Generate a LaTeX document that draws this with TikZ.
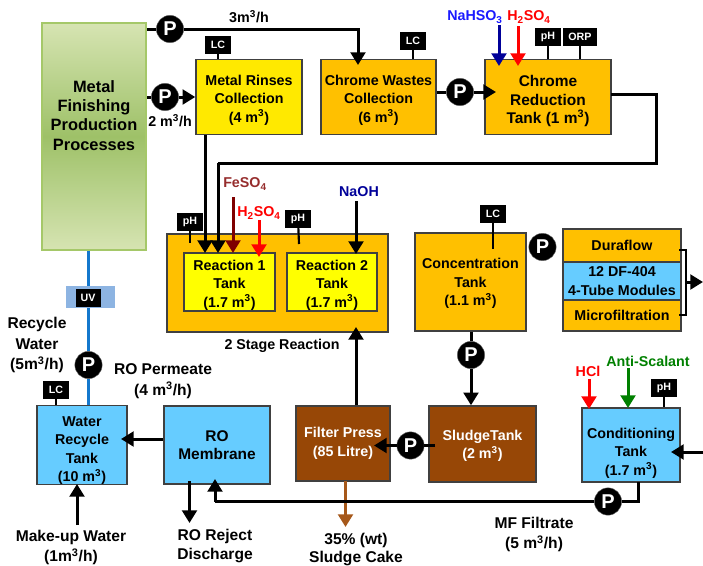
\documentclass[tikz,border=0pt]{standalone}
\usepackage{fontspec}
\setmainfont{Liberation Sans}
\usetikzlibrary{calc,positioning,arrows.meta}
\definecolor{ink}{gray}{0.25}
\definecolor{tankOrange}{RGB}{255,192,0}
\definecolor{tankYellow}{RGB}{255,233,0}
\definecolor{rxYellow}{RGB}{255,255,0}
\definecolor{tankBlue}{RGB}{102,204,255}
\definecolor{tankBrown}{RGB}{151,71,6}
\definecolor{cakeBrown}{RGB}{166,88,26}
\definecolor{waterBlue}{RGB}{20,120,205}
\definecolor{uvBlue}{RGB}{141,180,226}
\definecolor{ironRed}{RGB}{127,0,0}
\definecolor{ironText}{RGB}{150,45,45}
\definecolor{chemBlue}{RGB}{0,0,153}
\definecolor{labelBlue}{RGB}{26,26,255}
\definecolor{chemGreen}{RGB}{0,128,0}
\definecolor{leafTop}{RGB}{214,228,178}
\definecolor{leafMid}{RGB}{158,193,104}
\definecolor{leafEdge}{RGB}{165,200,105}
\def\px{0.75pt}
\newcommand{\cub}{\textsuperscript{3}}
\newcommand{\sk}[1]{\rule{0pt}{#1}}

\begin{document}
\begin{tikzpicture}[x=\px, y=-\px, font=\bfseries,
   tank/.style={draw=ink, line width=1.1pt, inner sep=0pt, align=center, font=\bfseries\fontsize{10.7}{13.8}\selectfont},
   big/.style={font=\bfseries\fontsize{11.6}{13.8}\selectfont},
   pump/.style={circle, fill=black, draw=black!60, line width=0.3pt, text=white, minimum size=20.5pt, inner sep=0pt, font=\bfseries\fontsize{15}{15}\selectfont},
   tagbox/.style={fill=black, text=white, minimum width=19.5pt, minimum height=13.5pt, inner sep=0pt, font=\bfseries\fontsize{8}{8}\selectfont},
   lbl/.style={align=center, inner sep=0pt, font=\bfseries\fontsize{10.7}{13.8}\selectfont},
   lblb/.style={align=center, inner sep=0pt, font=\bfseries\fontsize{11.7}{15.6}\selectfont},
   lblc/.style={align=center, inner sep=0pt, font=\bfseries\fontsize{11.7}{13.6}\selectfont},
   link/.style={line width=2.25pt, draw=black},
   flow/.style={line width=2.25pt, draw=black, -{Triangle[width=11pt,length=9.5pt]}},
   tinted/.style={flow, draw=#1, -{Triangle[width=11pt,length=9.5pt,fill=#1]}},
   stem/.style={line width=1.6pt, draw=black}]
  \useasboundingbox (0,0) rectangle (703,565);
  % production line
  \node[draw=leafEdge, line width=1.6pt, top color=leafTop, bottom color=leafTop, middle color=leafMid, minimum width=78pt, minimum height=170pt](process) at (94,136.5){};
  \node[lbl, font=\bfseries\fontsize{12.3}{14.4}\selectfont](processlbl) at (94,115.5){Metal\\Finishing\\Production\\Processes};
  % first row of tanks
  \node[tank, fill=tankYellow, minimum width=106*\px, minimum height=75*\px](rinses) at (249,97){\sk{12.2pt}Metal Rinses\\Collection\\(4 m\cub)};
  \node[tank, fill=tankOrange, minimum width=115*\px, minimum height=75*\px](wastes) at (378.5,97){\sk{12.2pt}Chrome Wastes\\Collection\\(6 m\cub)};
  \node[tank, big, fill=tankOrange, minimum width=126*\px, minimum height=75*\px](reduction) at (548,97){\sk{14.5pt}Chrome\\Reduction\\Tank (1 m\cub)};
  \node[pump](p1) at (170,29){P};
  \node[pump](p2) at (165,97){P};
  \node[pump](p3) at (460,92){P};
  \node[tagbox](lc1) at (218,45){LC};
  \node[tagbox](lc2) at (413,41){LC};
  \node[tagbox](ph1) at (548,36.5){pH};
  \node[tagbox, minimum width=25.5pt](orp) at (580,37){ORP};
  \node[lbl](q1) at (249,17){3m\cub/h};
  \node[lbl](q2) at (170,121){2 m\cub/h};
  \node[lbl, text=labelBlue](nahso) at (475,17){NaHSO\textsubscript{3}};
  \node[lbl, text=red](hso1) at (529,17){H\textsubscript{2}SO\textsubscript{4}};
  \draw[link] (process.east |- p1) -- (p1);
  \coordinate (wastesIn) at (358,65);
  \draw[flow] (p1) -| (wastesIn);
  \draw[link] (process.east |- p2) -- (p2);
  \draw[flow] (p2) -- (p2 -| rinses.west);
  \draw[link] (wastes.east |- p3) -- (p3);
  \coordinate (reductionIn) at (496,92);
  \draw[flow] (p3) -- (reductionIn);
  \draw[stem] (lc1) -- (lc1 |- rinses.north);
  \draw[stem] (lc2) -- (lc2 |- wastes.north);
  \draw[stem] (ph1) -- (ph1 |- reduction.north);
  \draw[stem] (orp) -- (orp |- reduction.north);
  \coordinate (nahTop) at (499,25); \coordinate (nahTip) at (499,66);
  \coordinate (hsoTop) at (518,26); \coordinate (hsoTip) at (518,66);
  \draw[tinted=chemBlue] (nahTop) -- (nahTip);
  \draw[tinted=red] (hsoTop) -- (hsoTip);
  % 2 stage reaction
  \node[tank, fill=tankOrange, minimum width=221*\px, minimum height=98*\px](stage) at (277.5,283){};
  \node[tank, fill=rxYellow, minimum width=91*\px, minimum height=58*\px](rx1) at (229.5,282){\sk{12.2pt}Reaction 1\\Tank\\(1.7 m\cub)};
  \node[tank, fill=rxYellow, minimum width=90*\px, minimum height=58*\px](rx2) at (332,282){\sk{12.2pt}Reaction 2\\Tank\\(1.7 m\cub)};
  \node[tagbox](ph2) at (190,222){pH};
  \node[tagbox](ph3) at (298,218.5){pH};
  \node[lbl, text=ironText](feso) at (245,184){FeSO\textsubscript{4}};
  \node[lbl, text=red](hso2) at (259,213){H\textsubscript{2}SO\textsubscript{4}};
  \node[lbl, text=chemBlue](naoh) at (359,192){NaOH};
  \node[lbl](stagelbl) at (282,346){2 Stage Reaction};
  \coordinate (ph2End) at (190,243); \coordinate (ph3End) at (299,244);
  \draw[stem] (ph2) -- (ph2End);
  \draw[stem] (ph3) -- (ph3End);
  \coordinate (rinsesTip) at (205,253); \coordinate (redTip) at (218,253);
  \coordinate (redOut) at (611,94); \coordinate (redTurn) at (656,163); \coordinate (redBack) at (218,163);
  \draw[flow] (rinses.south -| rinsesTip) -- (rinsesTip);
  \draw[link] (redOut) -| (redTurn) -- (redBack);
  \draw[flow] (redBack) -- (redTip);
  \coordinate (feTop) at (233,197); \coordinate (feTip) at (233,253);
  \coordinate (h2Top) at (259,220); \coordinate (h2Tip) at (259,257);
  \coordinate (naTop) at (356,201); \coordinate (naTip) at (356,254);
  \draw[tinted=ironRed] (feTop) -- (feTip);
  \draw[tinted=red] (h2Top) -- (h2Tip);
  \draw[flow] (naTop) -- (naTip);
  % concentration and membrane modules
  \node[tank, fill=tankOrange, minimum width=111*\px, minimum height=98*\px](conc) at (470.5,282){\sk{10pt}Concentration\\Tank\\(1.1 m\cub)};
  \node[tagbox](lc3) at (493,213.5){LC};
  \node[pump](p4) at (542.5,247){P};
  \node[pump](p5) at (471,355){P};
  \node[tank, fill=tankOrange, minimum width=118*\px, minimum height=33*\px](dura) at (622,245.5){Duraflow};
  \node[tank, fill=tankBlue, minimum width=118*\px, minimum height=38*\px](df) at (622,281){12 DF-404\\4-Tube Modules};
  \node[tank, fill=tankOrange, minimum width=118*\px, minimum height=31*\px](micro) at (622,315.5){Microfiltration};
  \coordinate (lc3End) at (493,249);
  \draw[stem] (lc3) -- (lc3End);
  \coordinate (duraEnd) at (679,250); \coordinate (microEnd) at (679,315);
  \coordinate (brkTop) at (686,250); \coordinate (brkMid) at (686,282); \coordinate (modOut) at (703,282);
  \draw[stem] (duraEnd) -- (brkTop) |- (microEnd);
  \draw[flow] (brkMid) -- (modOut);
  \draw[link] (conc.south -| p5) -- (p5);
  % bottom row
  \node[tank, fill=tankBlue, minimum width=90*\px, minimum height=78*\px](recycle) at (82,445){\sk{16pt}Water\\Recycle\\Tank\\(10 m\cub)};
  \node[tank, big, fill=tankBlue, minimum width=106*\px, minimum height=78*\px](ro) at (217,445){RO\\Membrane};
  \node[tank, fill=tankBrown, text=white, minimum width=94*\px, minimum height=75*\px](press) at (343,443.5){Filter Press\\(85 Litre)};
  \node[tank, fill=tankBrown, text=white, minimum width=107*\px, minimum height=76*\px](sludge) at (482.5,444){\sk{10.7pt}SludgeTank\\(2 m\cub)};
  \node[tank, fill=tankBlue, minimum width=98*\px, minimum height=74*\px](cond) at (631,445){\sk{19.7pt}Conditioning\\Tank\\(1.7 m\cub)};
  \node[fill=uvBlue, minimum width=36.75pt, minimum height=16.5pt, inner sep=0pt](uvback) at (90.5,297){};
  \node[tagbox, minimum width=18.75pt](uv) at (88,298){UV};
  \node[pump](p6) at (88.5,365){P};
  \node[pump](p7) at (410.5,445.5){P};
  \node[pump](p8) at (608,501.5){P};
  \node[tagbox](lc4) at (56,390){LC};
  \node[tagbox](ph4) at (664,388){pH};
  \draw[line width=2.2pt, waterBlue] (process.south -| p6) -- (uvback.north -| p6);
  \draw[line width=2.2pt, waterBlue] (uvback.south -| p6) -- (p6);
  \draw[line width=2.2pt, waterBlue] (p6) -- (p6 |- recycle.north);
  \draw[stem] (lc4) -- (lc4 |- recycle.north);
  \draw[stem] (ph4) -- (ph4 |- cond.north);
  \coordinate (pressUp) at (356,327);
  \draw[flow] (press.north -| pressUp) -- (pressUp);
  \draw[flow] (p5) -- (p5 |- sludge.north);
  \coordinate (sludgeOut) at (435,445.5); \coordinate (pressIn) at (374,445.5);
  \draw[link] (sludgeOut) -- (p7);
  \draw[flow] (p7) -- (pressIn);
  \coordinate (recycleIn) at (121,439);
  \draw[flow] (ro.west |- recycleIn) -- (recycleIn);
  \coordinate (makeTop) at (77,525); \coordinate (makeTip) at (77,484);
  \draw[flow] (makeTop) -- (makeTip);
  \coordinate (rejectTop) at (189.5,481); \coordinate (rejectTip) at (189.5,523);
  \draw[flow] (rejectTop) -- (rejectTip);
  \coordinate (cakeTop) at (345.5,481); \coordinate (cakeTip) at (345.5,527);
  \draw[tinted=cakeBrown] (cakeTop) -- (cakeTip);
  \coordinate (condOut) at (638,482); \coordinate (roIn) at (215,479); \coordinate (mfCorner) at (215,501.5);
  \draw[link] (condOut) |- (p8);
  \draw[link] (p8) -- (mfCorner);
  \draw[flow] (mfCorner) -- (roIn);
  \coordinate (mfIn) at (703,452); \coordinate (mfTip) at (671,452);
  \draw[flow] (mfIn) -- (mfTip);
  \coordinate (hclTop) at (589,379); \coordinate (hclTip) at (589,409);
  \coordinate (antiTop) at (628,368); \coordinate (antiTip) at (628,408);
  \draw[tinted=red] (hclTop) -- (hclTip);
  \draw[tinted=chemGreen] (antiTop) -- (antiTip);
  % labels round the bottom row
  \node[lblb](recyclelbl) at (37,345){Recycle\\Water\\(5m\cub/h)};
  \node[lblb](permeate) at (163,381){RO Permeate\\(4 m\cub/h)};
  \node[lblb](makeup) at (71,547.5){Make-up Water\\(1m\cub/h)};
  \node[lblc](reject) at (215,546){RO Reject\\Discharge};
  \node[lblc](cake) at (356,549.5){35\% (wt)\\Sludge Cake};
  \node[lblb](filtrate) at (534,534.5){MF Filtrate\\(5 m\cub/h)};
  \node[lbl, text=red](hcl) at (588,371){HCl};
  \node[lbl, text=chemGreen](anti) at (648,361){Anti-Scalant};
\end{tikzpicture}
\end{document}
